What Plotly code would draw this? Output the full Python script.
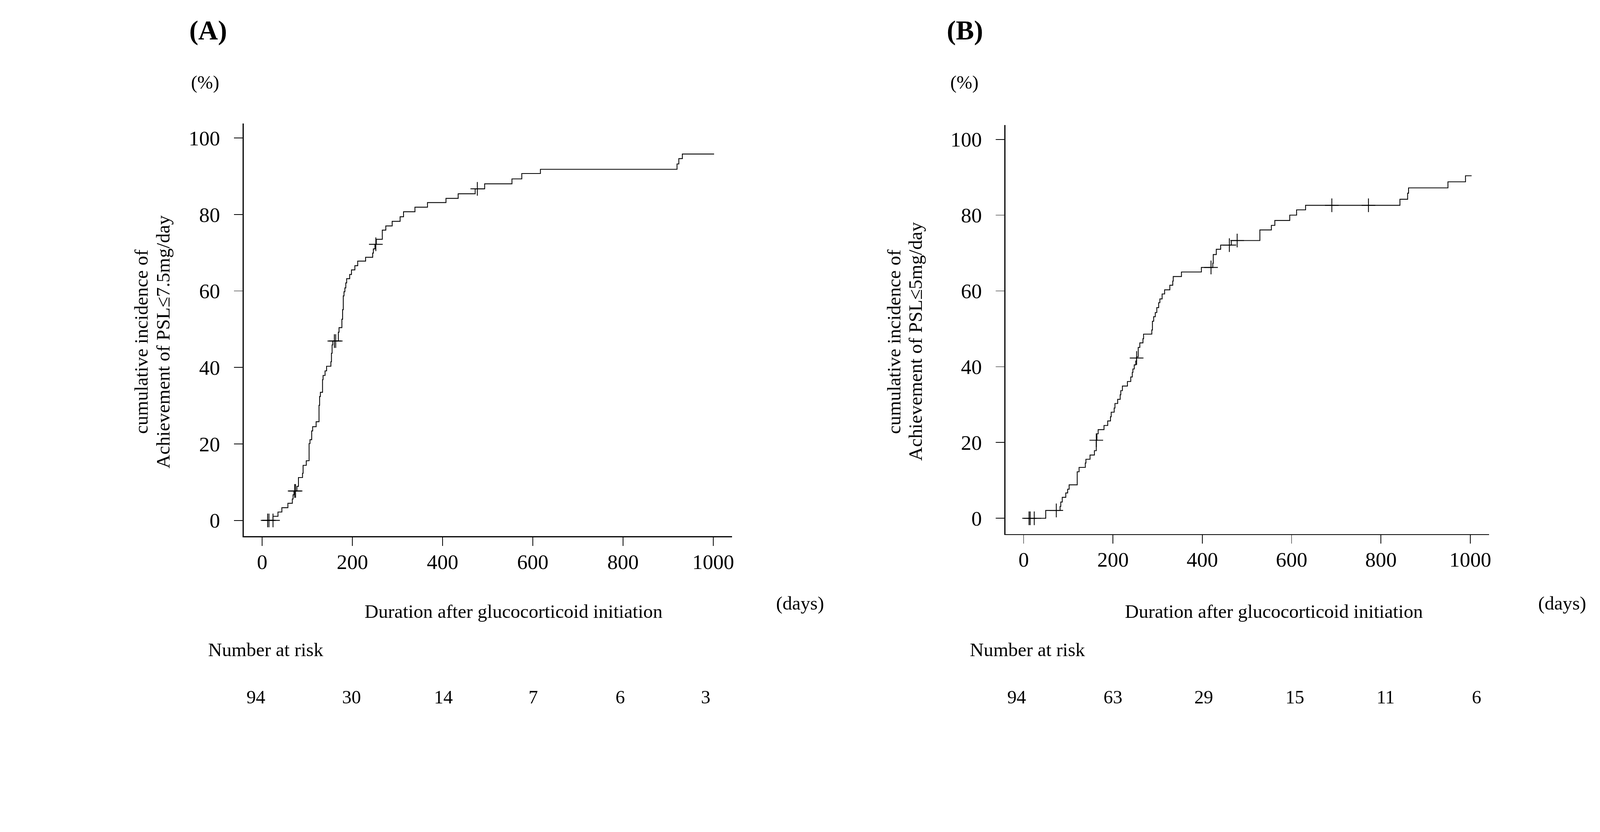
import plotly.graph_objects as go

W, H = 4583, 2129
FONT = "Times New Roman, Liberation Serif, serif"

# ---------------- Data: panel A (PSL <= 7.5 mg/day) ----------------
a_event_days = [24, 35, 43.6, 57, 66.8, 68.5, 70.5, 77, 80.4, 89.4, 90.7, 97.7, 104, 106,
                109.8, 111.9, 119.6, 126, 127.3, 129, 133.8, 135, 139.4, 142.8, 152.3, 153.6,
                155, 156.4, 168.9, 170.4, 176.7, 178.3, 179.8, 181.4, 183.4, 185.4, 187.3,
                194, 198, 205.5, 211.8, 229.3, 245, 246.5, 250, 253, 266.3, 274.1, 288.2,
                305.8, 313.4, 338.7, 366.5, 407.5, 434.5, 472.2, 493.3, 553.8, 575.6, 616.9,
                919.8, 923.8, 931.6]
a_event_pct = [1.06, 2.19, 3.33, 4.47, 5.6, 6.7, 7.7, 8.9, 11.2, 12.3, 14.4, 15.6, 20.1, 21.1,
               23.4, 24.5, 25.8, 30.1, 32.4, 33.5, 36.8, 37.9, 39.1, 40.3, 41.5, 43.7,
               45.9, 46.9, 49.2, 50.4, 52.6, 55.1, 58.7, 59.8, 60.8, 62.1, 63.2,
               64.3, 65.5, 66.6, 67.8, 68.8, 69.9, 71.0, 72.2, 73.5, 75.9, 77.0, 78.2,
               79.4, 80.7, 81.9, 83.1, 84.2, 85.4, 86.7, 88.0, 89.3, 90.7, 91.8,
               93.2, 94.6, 95.8]
a_end_day = 1002
a_censor_days = [12, 15, 24, 72, 74, 160, 163, 252, 477]
a_censor_pct = [0, 0, 0, 7.7, 7.7, 46.9, 46.9, 72.2, 86.7]
a_risk = [94, 30, 14, 7, 6, 3]

# ---------------- Data: panel B (PSL <= 5 mg/day) ----------------
b_event_days = [49.4, 81.5, 83.1, 86.4, 94.3, 98.5, 101.8, 119.9, 124.1, 138, 139.4, 148.6,
                158.4, 162.6, 164, 166.8, 179.9, 188.2, 194.4, 196, 202.7, 204.4, 210.5,
                216.1, 217.5, 221.1, 232.3, 239.8, 243.2, 244.6, 247.6, 251, 252.9, 256.5,
                260.1, 267.1, 268.5, 286.9, 288.3, 291.1, 294.7, 298.1, 302.3, 305, 310,
                315.6, 327.3, 333.8, 334.9, 353.3, 397.9, 423.5, 424.5, 431.3, 441.1, 464.8,
                528.9, 554.6, 562.4, 595.8, 611.1, 631.2, 842.5, 859.7, 861.8, 950, 989.3]
b_event_pct = [2.08, 3.13, 4.29, 5.54, 6.69, 7.68, 8.83, 12.28, 13.44, 14.59, 15.58, 16.7,
               17.85, 20.6, 22.3, 23.4, 24.5, 25.7, 26.8, 28.0, 29.1, 30.3, 31.4,
               32.6, 33.7, 34.9, 36.1, 37.3, 38.5, 39.4, 40.5, 41.5, 42.6, 45.1,
               46.3, 47.4, 48.6, 49.7, 52.0, 53.2, 54.3, 55.6, 56.9, 57.9, 59.2,
               60.3, 61.5, 62.6, 63.8, 65.0, 66.2, 67.3, 69.6, 71.0, 72.1, 73.3,
               76.1, 77.3, 78.6, 80.0, 81.4, 82.6, 84.2, 85.8, 87.2, 88.8, 90.4]
b_end_day = 1003
b_censor_days = [12, 14.6, 23.7, 73, 162.6, 252.9, 419.5, 460.5, 478, 690, 772]
b_censor_pct = [0, 0, 0, 2.08, 20.6, 42.3, 66.2, 72.1, 73.3, 82.6, 82.6]
b_risk = [94, 63, 29, 15, 11, 6]

risk_times = [0, 200, 400, 600, 800, 1000]
x_ticks = [0, 200, 400, 600, 800, 1000]
y_ticks = [0, 20, 40, 60, 80, 100]

x_title = "Duration after glucocorticoid initiation"
a_ylab = ["cumulative incidence of", "Achievement of PSL\u22647.5mg/day"]
b_ylab = ["cumulative incidence of", "Achievement of PSL\u22645mg/day"]

# ---------------- helpers (pixel -> paper) ----------------
def fx(px):
    return px / W

def fy(py):
    return 1 - py / H

def curve(days, pct, end):
    xs = [0] + list(days) + [end]
    ys = [0] + list(pct) + [pct[-1]]
    return xs, ys

fig = go.Figure()
panels = [
    dict(days=a_event_days, pct=a_event_pct, end=a_end_day, cd=a_censor_days, cp=a_censor_pct,
         xa="x", ya="y"),
    dict(days=b_event_days, pct=b_event_pct, end=b_end_day, cd=b_censor_days, cp=b_censor_pct,
         xa="x2", ya="y2"),
]
for p in panels:
    xs, ys = curve(p["days"], p["pct"], p["end"])
    fig.add_trace(go.Scatter(x=xs, y=ys, mode="lines", line=dict(shape="hv", color="black", width=2.4),
                             xaxis=p["xa"], yaxis=p["ya"], showlegend=False, hoverinfo="skip"))
    fig.add_trace(go.Scatter(x=p["cd"], y=p["cp"], mode="markers",
                             marker=dict(symbol="cross-thin", size=28, color="black",
                                         line=dict(color="black", width=2.4)),
                             xaxis=p["xa"], yaxis=p["ya"], showlegend=False, hoverinfo="skip"))

axis_common = dict(showgrid=False, zeroline=False, showline=True, linecolor="black", linewidth=2.6,
                   ticks="outside", ticklen=25, tickwidth=2.4, tickcolor="black",
                   tickfont=dict(family=FONT, size=60, color="black"))

fig.update_layout(
    width=W, height=H, margin=dict(l=0, r=0, t=0, b=0),
    paper_bgcolor="white", plot_bgcolor="white",
    xaxis=dict(domain=[fx(699), fx(2100)], range=[-40.97, 1042.1], tickvals=x_ticks,
               anchor="y", ticklabelstandoff=-6, **axis_common),
    yaxis=dict(domain=[fy(1535), fy(354)], range=[-4.11, 103.74], tickvals=y_ticks,
               anchor="x", ticklabelstandoff=28, **axis_common),
    xaxis2=dict(domain=[fx(2884), fx(4271)], range=[-40.6, 1042.2], tickvals=x_ticks,
                anchor="y2", ticklabelstandoff=-6, **axis_common),
    yaxis2=dict(domain=[fy(1529), fy(358)], range=[-4.15, 103.78], tickvals=y_ticks,
                anchor="x2", ticklabelstandoff=28, **axis_common),
)

ann = []
def text(px, py, s, size=55, bold=False, angle=0, xanchor="center"):
    ann.append(dict(x=fx(px), y=fy(py), xref="paper", yref="paper", text=(f"<b>{s}</b>" if bold else s),
                    showarrow=False, xanchor=xanchor, yanchor="middle", textangle=angle,
                    font=dict(family=FONT, size=size, color="black")))

# Panel labels, units
text(597, 86, "(A)", size=78, bold=True)
text(2768, 86, "(B)", size=78, bold=True)
text(588, 236, "(%)", size=54)
text(2766, 236, "(%)", size=54)

# y titles
text(405, 978, a_ylab[0], angle=-90)
text(467, 978, a_ylab[1], angle=-90)
text(2563, 978, b_ylab[0], angle=-90)
text(2625, 978, b_ylab[1], angle=-90)

# x titles and units
text(1473, 1750, x_title)
text(3654, 1750, x_title)
text(2295, 1727, "(days)")
text(4480, 1727, "(days)")

# number at risk
text(595, 1860, "Number at risk", xanchor="left")
text(2780, 1860, "Number at risk", xanchor="left")

a_shift = [-18, -2, 2, 1, -8, -21]
b_shift = [-20, 0, 4, 9, 13, 18]
for t, n, s in zip(risk_times, a_risk, a_shift):
    ann.append(dict(x=t, y=fy(1996), xref="x", yref="paper", text=str(n), showarrow=False,
                    xshift=s, xanchor="center", yanchor="middle",
                    font=dict(family=FONT, size=54, color="black")))
for t, n, s in zip(risk_times, b_risk, b_shift):
    ann.append(dict(x=t, y=fy(1996), xref="x2", yref="paper", text=str(n), showarrow=False,
                    xshift=s, xanchor="center", yanchor="middle",
                    font=dict(family=FONT, size=54, color="black")))

fig.update_layout(annotations=ann)

# Fit the fixed-size figure into the browser viewport (uniform scale, no margins)
fit_js = """
(function(){
  var gd = document.getElementById('{plot_id}');
  document.documentElement.style.margin = '0';
  document.body.style.margin = '0';
  document.body.style.overflow = 'hidden';
  function fit(){
    var s = Math.min(window.innerWidth / %d, window.innerHeight / %d);
    if (!isFinite(s) || s <= 0) { s = 1; }
    gd.style.transformOrigin = '0 0';
    gd.style.transform = 'scale(' + s + ')';
  }
  fit();
  window.addEventListener('resize', fit);
})();
""" % (W, H)

fig.write_html("out.html", post_script=fit_js, config={"displayModeBar": False})
